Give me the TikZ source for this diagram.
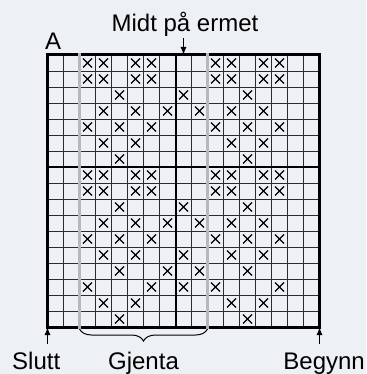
\documentclass[tikz,border=0pt]{standalone}
\usepackage{fontspec}
\setmainfont{Liberation Sans}
\definecolor{bakgrunn}{HTML}{EDF1F5}
\definecolor{gjentagraa}{HTML}{B8B8B8}
\definecolor{rutenett}{HTML}{2B2B2B}
\usepackage{tikz}
\usetikzlibrary{arrows.meta,decorations.pathreplacing}

\begin{document}
\begin{tikzpicture}[x=1pt,y=-1pt,
    tynn/.style={rutenett,line width=0.9pt},
    tykk/.style={black,line width=2pt},
    kant/.style={black,line width=3pt},
    kryss/.style={black,line width=1.3pt},
    pil/.style={black,line width=1.2pt,-{Latex[length=8pt,width=6pt]}},
    tekst/.style={inner sep=0pt,font=\fontsize{24}{28}\selectfont}]
  \fill[bakgrunn] (0,0) rectangle (366,374);
  \foreach \i in {1,...,16} {
    \draw[tynn] ({47.5+16*\i},55) -- ({47.5+16*\i},327);
    \draw[tynn] (47.5,{55+16*\i}) -- (319.5,{55+16*\i});
  }
  \draw[tykk] (175.5,55) -- (175.5,327);
  \draw[tykk] (47.5,167) -- (319.5,167);
  \draw[kant] (47.5,55) rectangle (319.5,327);
  \draw[gjentagraa,line width=3pt] (79.5,53.5) -- (79.5,328.5);
  \draw[gjentagraa,line width=3pt] (207.5,53.5) -- (207.5,328.5);
  \foreach \r/\kol in {1/{3,4,6,7,11,12,14,15},2/{3,4,6,7,11,12,14,15},
      3/{5,9,13},4/{4,6,8,10,12,14},5/{3,5,7,11,13,15},6/{4,6,12,14},7/{5,13},
      8/{3,4,6,7,11,12,14,15},9/{3,4,6,7,11,12,14,15},10/{5,9,13},
      11/{4,6,8,10,12,14},12/{3,5,7,11,13,15},13/{4,6,9,12,14},14/{5,8,10,13},
      15/{3,7,9,11,15},16/{4,6,12,14},17/{5,13}}
    \foreach \k in \kol
      \draw[kryss] ({16*\k+35},{16*\r+42.5}) -- ++(9,9)
        ({16*\k+44},{16*\r+42.5}) -- ++(-9,9);

  \node[tekst,anchor=base west] (a) at (45,50) {A};
  \node[tekst,anchor=base] (midt) at (185,32) {Midt på ermet};
  \node[tekst,anchor=base west] (slutt) at (12,369) {Slutt};
  \node[tekst,anchor=base] (gjenta) at (143.5,369) {Gjenta};
  \node[tekst,anchor=base east] (begynn) at (365,369) {Begynn};

  \coordinate (midtpil) at (183.5,55);
  \coordinate (sluttpil) at (47.5,327);
  \coordinate (begynnpil) at (319.5,327);
  \coordinate (gjentav) at (79.5,329);
  \coordinate (gjentah) at (207.5,329);
  \draw[pil] (midtpil |- 0,38) -- (midtpil);
  \draw[pil] (sluttpil |- 0,344) -- (sluttpil);
  \draw[pil] (begynnpil |- 0,344) -- (begynnpil);
  \draw[black,line width=1pt,decorate,
    decoration={brace,mirror,amplitude=12pt}] (gjentav) -- (gjentah);
\end{tikzpicture}
\end{document}
